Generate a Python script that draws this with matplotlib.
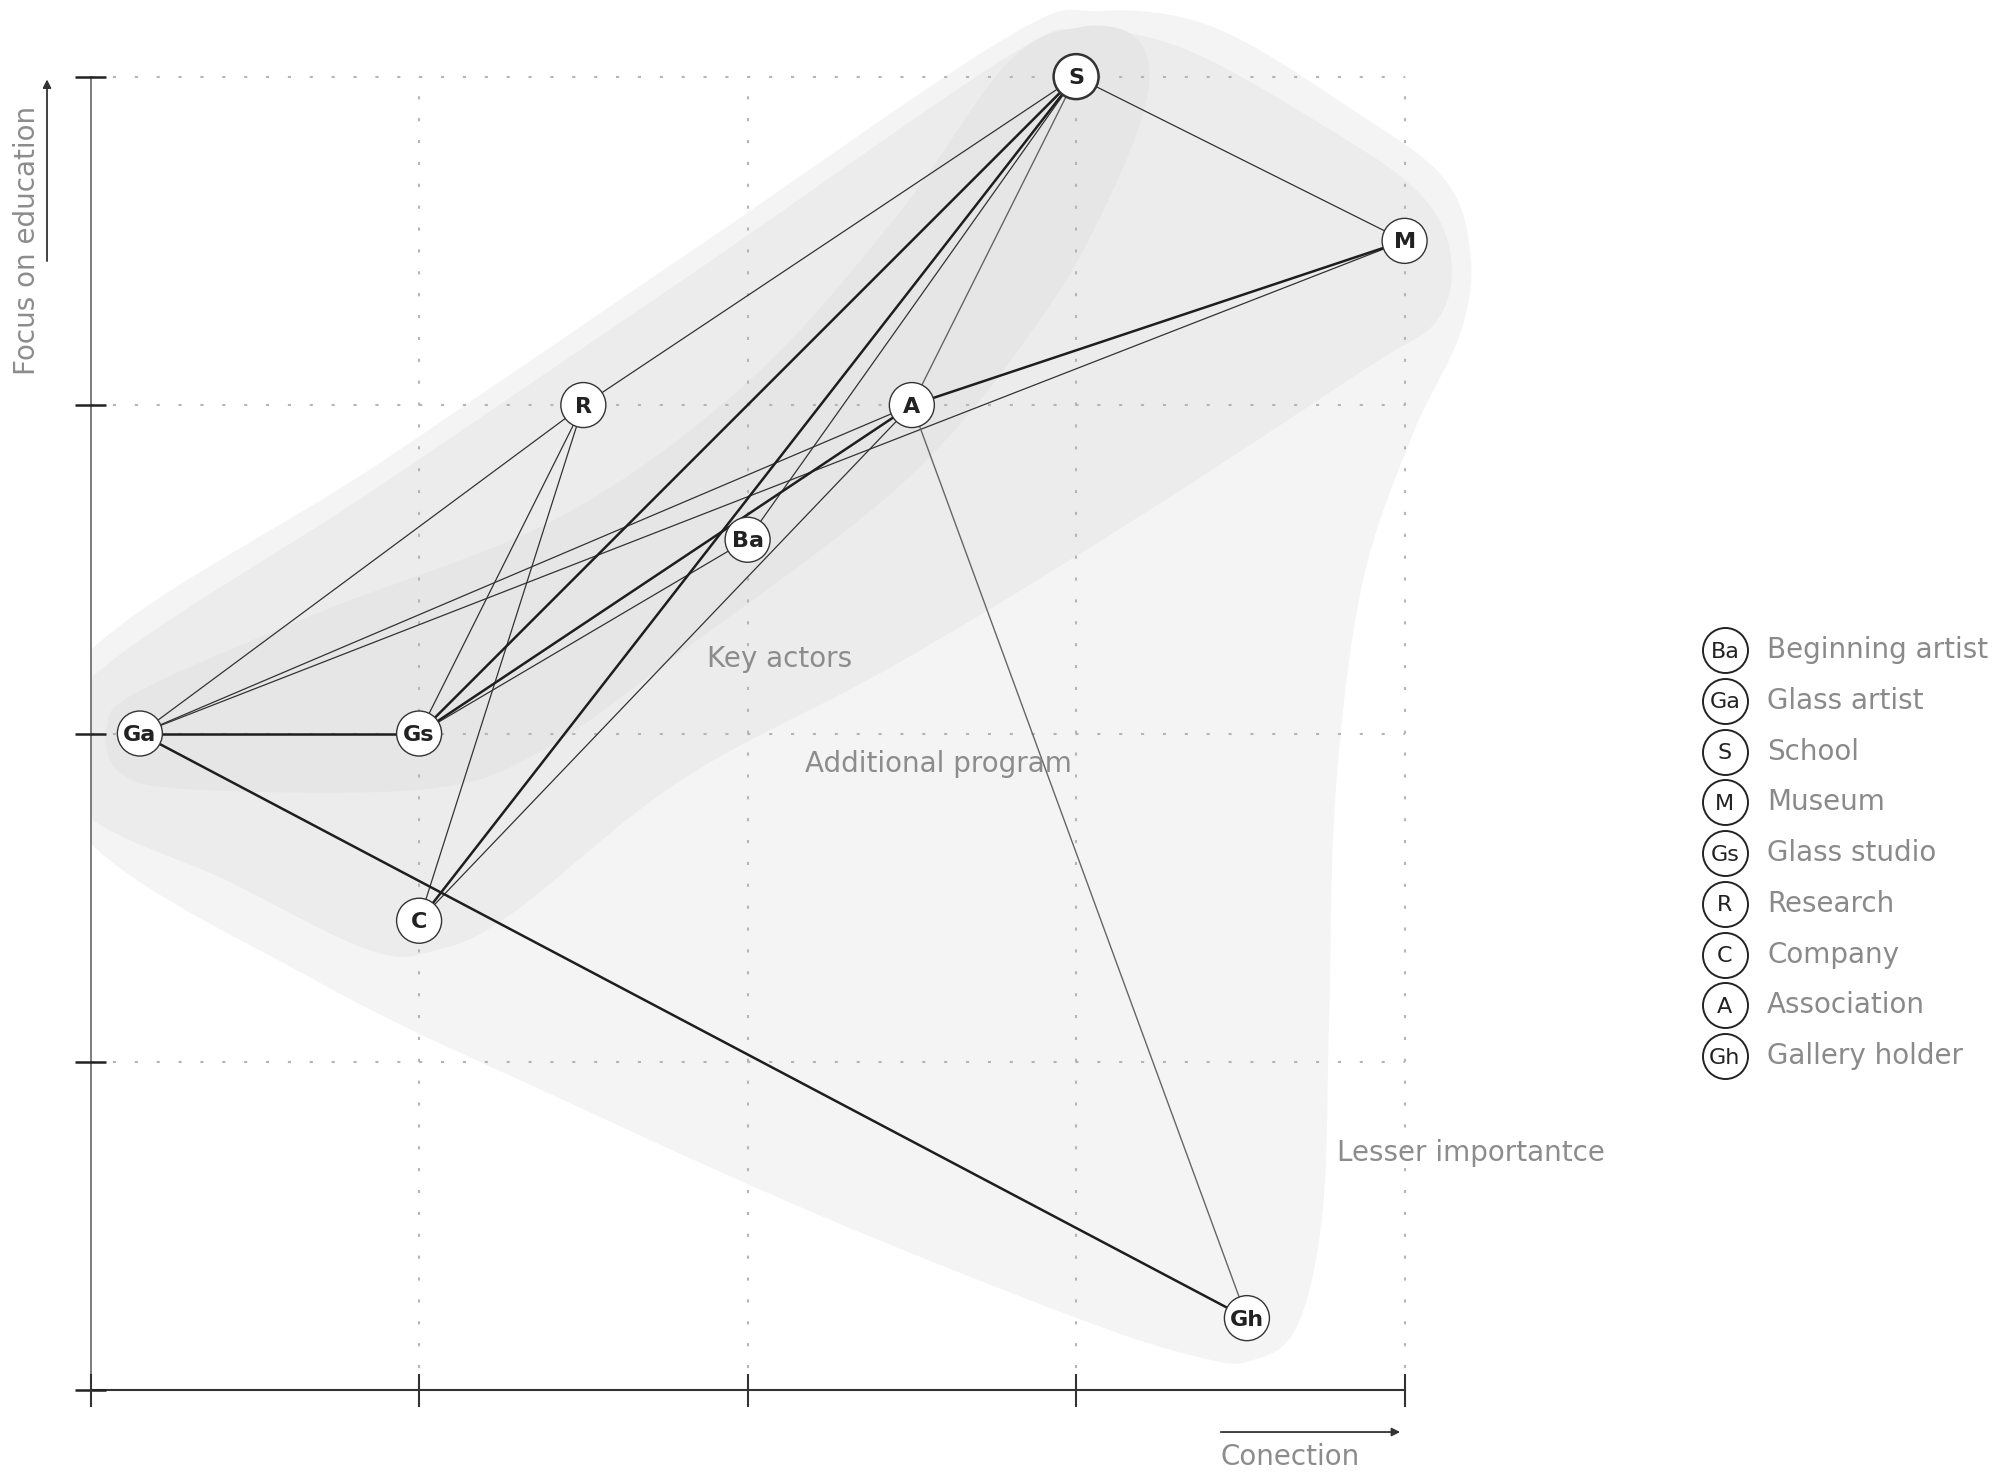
import numpy as np
import matplotlib
matplotlib.use("Agg")
import matplotlib.pyplot as plt
from matplotlib.patches import Polygon, Rectangle

plt.rcParams["font.family"] = ["DejaVu Sans"]

# actors: position on the grid (x = conection, y = focus on education)
node_names = ["S", "M", "R", "A", "Ba", "Ga", "Gs", "C", "Gh"]
node_x = [3.0, 4.0, 1.5, 2.5, 2.0, 0.15, 1.0, 1.0, 3.52]
node_y = [4.0, 3.5, 3.0, 3.0, 2.59, 2.0, 2.0, 1.43, 0.22]

# links between actors
strong_links = [("S", "Gs"), ("S", "C"), ("A", "M"), ("A", "Gs"), ("Ga", "Gs"), ("Ga", "Gh")]
weak_links = [("S", "R"), ("S", "M"), ("S", "Ba"), ("M", "Ga"), ("A", "Ga"),
              ("A", "C"), ("Ba", "Gs"), ("R", "Ga"), ("R", "Gs"), ("R", "C")]
grey_links = [("S", "A"), ("A", "Gh")]

legend_keys = ["Ba", "Ga", "S", "M", "Gs", "R", "C", "A", "Gh"]
legend_labels = ["Beginning artist", "Glass artist", "School", "Museum", "Glass studio",
                 "Research", "Company", "Association", "Gallery holder"]

# outlines of the three zones
outer_x = [-0.04, 0.89, 1.86, 2.79, 3.07, 3.42, 3.84, 4.12, 4.20, 4.17, 4.02, 3.87, 3.79,
           3.77, 3.75, 3.67, 3.53, 3.38, 3.03, 2.25, 1.47, 0.70, -0.04]
outer_y = [2.21, 2.83, 3.49, 4.12, 4.20, 4.15, 3.90, 3.69, 3.46, 3.22, 2.90, 2.45, 1.82,
           1.12, 0.54, 0.19, 0.09, 0.10, 0.21, 0.52, 0.87, 1.24, 1.71]
middle_x = [-0.04, 0.89, 1.86, 2.79, 3.03, 3.34, 3.77, 4.04, 4.14, 4.10, 3.88, 3.16, 2.45,
            1.80, 1.28, 1.05, 0.85, 0.42, -0.04]
middle_y = [2.13, 2.76, 3.42, 4.06, 4.14, 4.08, 3.84, 3.65, 3.46, 3.26, 3.11, 2.64, 2.21,
            1.86, 1.45, 1.34, 1.34, 1.55, 1.78]
inner_x = [0.05, 0.15, 0.70, 1.43, 2.00, 2.45, 2.79, 3.01, 3.18, 3.22, 3.11, 2.89, 2.48,
           1.80, 1.36, 1.01, 0.31, 0.09]
inner_y = [2.02, 2.13, 2.37, 2.66, 3.07, 3.57, 4.04, 4.15, 4.12, 3.96, 3.65, 3.26, 2.77,
           2.25, 1.94, 1.83, 1.83, 1.88]

grid_ticks = [0, 1, 2, 3, 4]


def smooth_closed(xs, ys, n=30):
    # closed Catmull-Rom curve through the outline points
    P = np.column_stack([xs, ys])
    m = len(P)
    t = np.linspace(0, 1, n, endpoint=False)[:, None]
    out = []
    for i in range(m):
        p0, p1, p2, p3 = P[i - 1], P[i], P[(i + 1) % m], P[(i + 2) % m]
        out.append(0.5 * (2 * p1 + (-p0 + p2) * t + (2 * p0 - 5 * p1 + 4 * p2 - p3) * t ** 2
                          + (-p0 + 3 * p1 - 3 * p2 + p3) * t ** 3))
    return np.vstack(out)


fig = plt.figure(figsize=(20.02, 14.83), dpi=100)
ax = fig.add_axes([0, 0, 1, 1])
ax.set_xlim(-0.2758, 5.8186)
ax.set_ylim(-0.2819, 4.2333)
ax.axis("off")

clip = Rectangle((0, -1), 10, 10, transform=ax.transData)
for xs, ys, col in [(outer_x, outer_y, "#f4f4f4"), (middle_x, middle_y, "#ececec"),
                    (inner_x, inner_y, "#e6e6e6")]:
    poly = Polygon(smooth_closed(xs, ys), closed=True, facecolor=col, edgecolor="none", zorder=0)
    ax.add_patch(poly)
    poly.set_clip_path(clip)

# dotted grid
ax.hlines(grid_ticks[1:], 0, 4, colors="#b5b5b5", linestyles=(0, (1.5, 9)), linewidth=1.5, zorder=1)
ax.vlines(grid_ticks[1:], 0, 4, colors="#b5b5b5", linestyles=(0, (1.5, 9)), linewidth=1.5, zorder=1)

# axes with ticks
ax.plot([0, 0], [0, 4], color="#666666", lw=1.2, zorder=1)
ax.plot([0, 4], [0, 0], color="#333333", lw=1.5, zorder=1)
ax.hlines(grid_ticks, -0.046, 0.046, colors="#222222", linewidth=1.8, zorder=1)
ax.vlines(grid_ticks, -0.05, 0.05, colors="#333333", linewidth=1.5, zorder=1)

pos = {n: (x, y) for n, x, y in zip(node_names, node_x, node_y)}
for links, lw, col in [(weak_links, 0.9, "#333333"), (grey_links, 1.0, "#666666"),
                       (strong_links, 1.8, "#1e1e1e")]:
    for a, b in links:
        ax.plot([pos[a][0], pos[b][0]], [pos[a][1], pos[b][1]], color=col, lw=lw,
                solid_capstyle="round", zorder=2)

edge_w = [1.8 if n == "S" else 1.0 for n in node_names]
ax.scatter(node_x, node_y, s=1050, facecolor="white", edgecolor="#333333",
           linewidths=edge_w, zorder=3)
for n, x, y in zip(node_names, node_x, node_y):
    ax.text(x, y - 0.005, n, ha="center", va="center", fontsize=16, fontweight="bold",
            color="#222222", zorder=4)

# legend
leg_y = 2.254 - 0.1545 * np.arange(len(legend_keys))
ax.scatter(np.full(len(legend_keys), 4.975), leg_y, s=1050, facecolor="white",
           edgecolor="#222222", linewidths=1.4, zorder=3)
for k, lab, y in zip(legend_keys, legend_labels, leg_y):
    ax.text(4.975, y - 0.005, k, ha="center", va="center", fontsize=16, color="#222222", zorder=4)
    ax.text(5.104, y, lab, ha="left", va="center", fontsize=20, color="#8a8a8a")

# zone labels
label_col = "#8c8c8c"
ax.text(2.098, 2.226, "Key actors", ha="center", va="center", fontsize=20, color=label_col)
ax.text(2.580, 1.907, "Additional program", ha="center", va="center", fontsize=20, color=label_col)
ax.text(4.202, 0.723, "Lesser importantce", ha="center", va="center", fontsize=20, color=label_col)

# axis titles with arrows
ax.annotate("", xy=(-0.1327, 4.0), xytext=(-0.1327, 3.43),
            arrowprops=dict(arrowstyle="-|>", color="#333333", lw=1.3, mutation_scale=12))
ax.text(-0.1937, 3.502, "Focus on education", rotation=90, ha="center", va="center",
        fontsize=20, color=label_col)
ax.annotate("", xy=(3.995, -0.1267), xytext=(3.432, -0.1267),
            arrowprops=dict(arrowstyle="-|>", color="#333333", lw=1.3, mutation_scale=12))
ax.text(3.651, -0.2028, "Conection", ha="center", va="center", fontsize=20, color=label_col)

fig.savefig("out.png", dpi=100, facecolor="white")
